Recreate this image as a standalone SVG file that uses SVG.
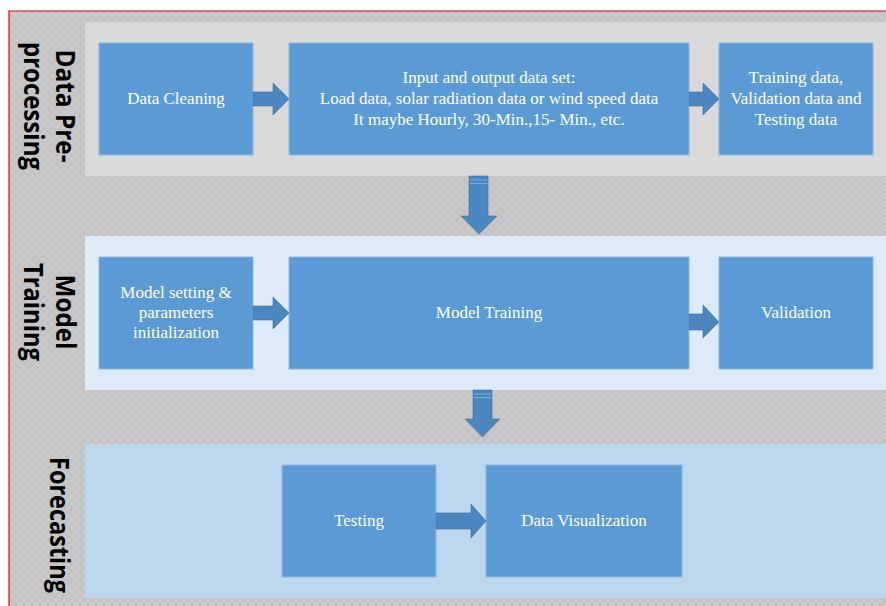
<svg xmlns="http://www.w3.org/2000/svg" width="886" height="606" viewBox="0 0 886 606">
  <defs>
    <pattern id="lattice" width="8" height="8" patternUnits="userSpaceOnUse">
      <rect width="8" height="8" fill="#c3c3c3"/>
      <path d="M0 0 L8 8 M8 0 L0 8" stroke="#d1d1d1" stroke-width="0.8" fill="none"/>
    </pattern>
    <style>
      .band1 { fill: #d9d9d9; }
      .band2 { fill: #deeaf6; }
      .band3 { fill: #bdd7ee; }
      .box { fill: #5b9bd5; stroke: #8fb8e0; stroke-width: 1; }
      .arrow { fill: #4a86c0; stroke: #41719c; stroke-width: 0.6; }
      .stripe { stroke: #7ea9d6; stroke-width: 1; }
      .label { font-family: "Liberation Serif", "Times New Roman", serif; font-size: 17px; fill: #ffffff; text-anchor: middle; }
      .side { font-family: "Open Sans", "Noto Sans", "Liberation Sans", sans-serif; font-weight: bold; font-size: 26px; fill: #000000; text-anchor: middle; }
    </style>
  </defs>

  <!-- page background and frame -->
  <rect x="0" y="0" width="886" height="606" fill="#ffffff"/>
  <rect x="9" y="11" width="877" height="595" fill="url(#lattice)"/>
  <path d="M9 606 L9 11 L886 11" fill="none" stroke="#e8000b" stroke-width="1.2"/>

  <!-- stage bands -->
  <g id="stage-preprocessing">
    <rect class="band1" x="85" y="22" width="801" height="154"/>
    <text class="side" transform="translate(56,106) rotate(90)" textLength="113" lengthAdjust="spacingAndGlyphs">Data Pre-</text>
    <text class="side" transform="translate(24,106) rotate(90)" textLength="128" lengthAdjust="spacingAndGlyphs">processing</text>
  </g>
  <g id="stage-training">
    <rect class="band2" x="85" y="236" width="801" height="154"/>
    <text class="side" transform="translate(56,312) rotate(90)" textLength="75" lengthAdjust="spacingAndGlyphs">Model</text>
    <text class="side" transform="translate(24,312) rotate(90)" textLength="98" lengthAdjust="spacingAndGlyphs">Training</text>
  </g>
  <g id="stage-forecasting">
    <rect class="band3" x="85" y="444" width="801" height="154"/>
    <text class="side" transform="translate(50,525) rotate(90)" textLength="136" lengthAdjust="spacingAndGlyphs">Forecasting</text>
  </g>

  <!-- process boxes -->
  <g id="data-cleaning">
    <rect class="box" x="99" y="43" width="154" height="112"/>
    <text class="label" x="176" y="104">Data Cleaning</text>
  </g>
  <g id="input-output">
    <rect class="box" x="289" y="43" width="400" height="112"/>
    <text class="label" x="489" y="83">Input and output data set:</text>
    <text class="label" x="489" y="104">Load data, solar radiation data or wind speed data</text>
    <text class="label" x="489" y="125">It maybe Hourly, 30-Min.,15- Min., etc.</text>
  </g>
  <g id="data-split">
    <rect class="box" x="719" y="43" width="154" height="112"/>
    <text class="label" x="796" y="83">Training data,</text>
    <text class="label" x="796" y="104">Validation data and</text>
    <text class="label" x="796" y="125">Testing data</text>
  </g>
  <g id="model-setting">
    <rect class="box" x="99" y="257" width="154" height="112"/>
    <text class="label" x="176" y="298">Model setting &amp;</text>
    <text class="label" x="176" y="318">parameters</text>
    <text class="label" x="176" y="338">initialization</text>
  </g>
  <g id="model-training">
    <rect class="box" x="289" y="257" width="400" height="112"/>
    <text class="label" x="489" y="318">Model Training</text>
  </g>
  <g id="validation">
    <rect class="box" x="719" y="257" width="154" height="112"/>
    <text class="label" x="796" y="318">Validation</text>
  </g>
  <g id="testing">
    <rect class="box" x="282" y="465" width="154" height="112"/>
    <text class="label" x="359" y="526">Testing</text>
  </g>
  <g id="data-visualization">
    <rect class="box" x="486" y="465" width="196" height="112"/>
    <text class="label" x="584" y="526">Data Visualization</text>
  </g>

  <!-- block arrows -->
  <g id="connectors">
    <path class="arrow" d="M253 92 H273 V83 L289 99 L273 115 V106 H253 Z"/>
    <path class="arrow" d="M689 92 H703 V83 L719 99 L703 115 V106 H689 Z"/>
    <path class="arrow" d="M253 306 H273 V297 L289 313 L273 329 V320 H253 Z"/>
    <path class="arrow" d="M689 314 H703 V305 L719 322 L703 338 V330 H689 Z"/>
    <path class="arrow" d="M436 513 H471 V504 L486 521 L471 538 V529 H436 Z"/>
    <path class="arrow" d="M469 176 H488 V216 H497 L479 234 L461 216 H469 Z"/>
    <line class="stripe" x1="469.5" y1="180" x2="487.5" y2="180"/>
    <line class="stripe" x1="469.5" y1="183.5" x2="487.5" y2="183.5"/>
    <path class="arrow" d="M473 390 H492 V419 H500 L482.5 437 L465 419 H473 Z"/>
    <line class="stripe" x1="473.5" y1="394" x2="491.5" y2="394"/>
    <line class="stripe" x1="473.5" y1="397.5" x2="491.5" y2="397.5"/>
  </g>
</svg>
